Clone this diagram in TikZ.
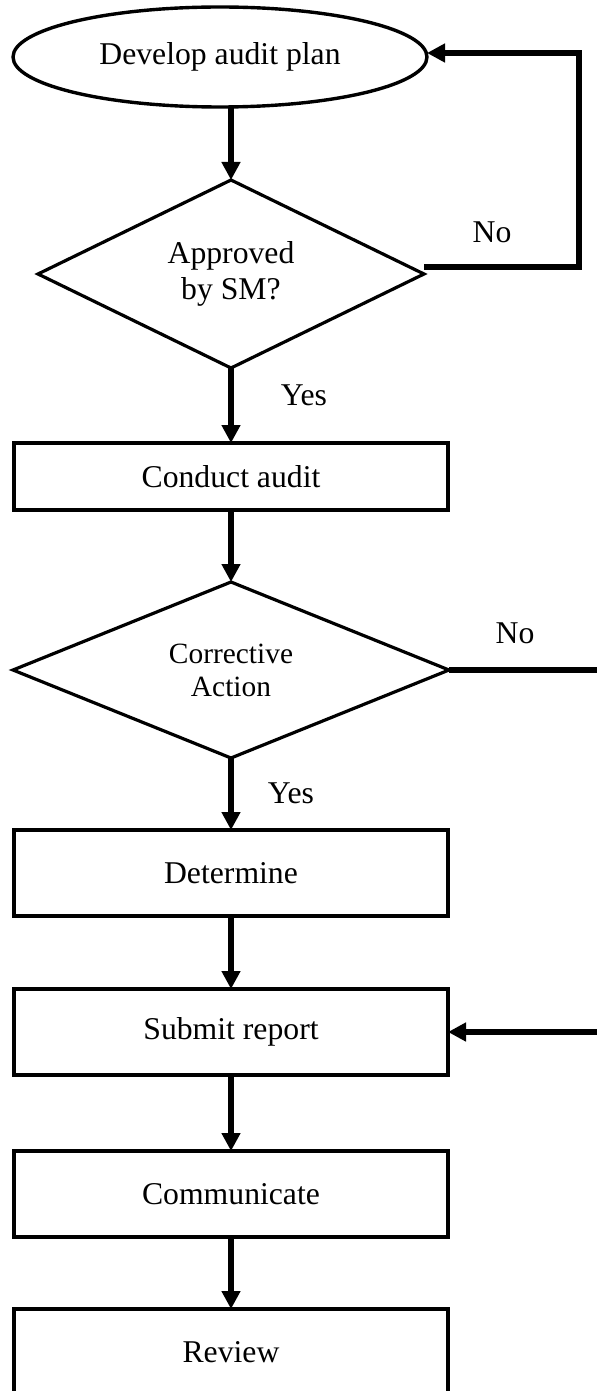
\documentclass[tikz,border=0pt]{standalone}
\usepackage{fontspec}
\setmainfont{Liberation Serif}
\usetikzlibrary{shapes,arrows.meta,positioning}

\tikzset{
  box/.style={rectangle,draw,line width=1.7pt,minimum width=217pt,minimum height=43pt,inner sep=0pt,outer sep=0pt,font=\fontsize{15.85}{18}\selectfont},
  decision/.style={diamond,draw,line width=1.6pt,shape aspect=2,inner sep=0pt,outer sep=0pt,align=center},
  flow/.style={line width=2.6pt,-{Triangle[length=9pt,width=9pt]}},
  link/.style={line width=2.6pt},
  lbl/.style={inner sep=0pt,font=\fontsize{15.85}{18}\selectfont}
}

\begin{document}
\begin{tikzpicture}
  \useasboundingbox (0,0) rectangle (298pt,-695.5pt);

  \node[ellipse,draw,line width=1.7pt,minimum width=207pt,minimum height=50pt,inner sep=0pt,outer sep=0pt,font=\fontsize{15.85}{18}\selectfont] (plan) at (110pt,-28.5pt) {Develop audit plan};
  \node[decision,minimum width=193pt,minimum height=94pt,font=\fontsize{15.85}{18}\selectfont,below = 36.5pt of plan,xshift=5.5pt] (approved) {Approved\\by SM?};
  \node[box,minimum height=33.5pt,below = 37.5pt of approved] (conduct) {Conduct audit};
  \node[decision,minimum width=218pt,minimum height=88pt,font=\fontsize{14.7}{16.5}\selectfont,below = 36pt of conduct] (corrective) {Corrective\\Action};
  \node[box,below = 36pt of corrective] (determine) {Determine};
  \node[box,below = 36.5pt of determine] (submit) {Submit report};
  \node[box,below = 38pt of submit] (communicate) {Communicate};
  \node[box,below = 36pt of communicate] (review) {Review};

  \coordinate (loop) at (289.5pt,0);
  \coordinate (edge) at (300pt,0);

  \draw[flow] (approved.north |- plan.south) -- (approved);
  \draw[flow] (approved) -- (conduct);
  \draw[flow] (conduct) -- (corrective);
  \draw[flow] (corrective) -- (determine);
  \draw[flow] (determine) -- (submit);
  \draw[flow] (submit) -- (communicate);
  \draw[flow] (communicate) -- (review);

  \draw[flow] ([yshift=3.5pt]approved.east) -- ([yshift=3.5pt]approved.east -| loop) -- ([yshift=2pt]plan.east -| loop) -- ([yshift=2pt]plan.east);
  \draw[link] (corrective.east) -- (corrective.east -| edge);
  \draw[flow] (submit.east -| edge) -- (submit.east);

  \node[lbl] (no1) at (246pt,-116pt) {No};
  \node[lbl] (yes1) at (152pt,-197.5pt) {Yes};
  \node[lbl] (no2) at (257.5pt,-316.5pt) {No};
  \node[lbl] (yes2) at (145.5pt,-396.5pt) {Yes};
\end{tikzpicture}
\end{document}
